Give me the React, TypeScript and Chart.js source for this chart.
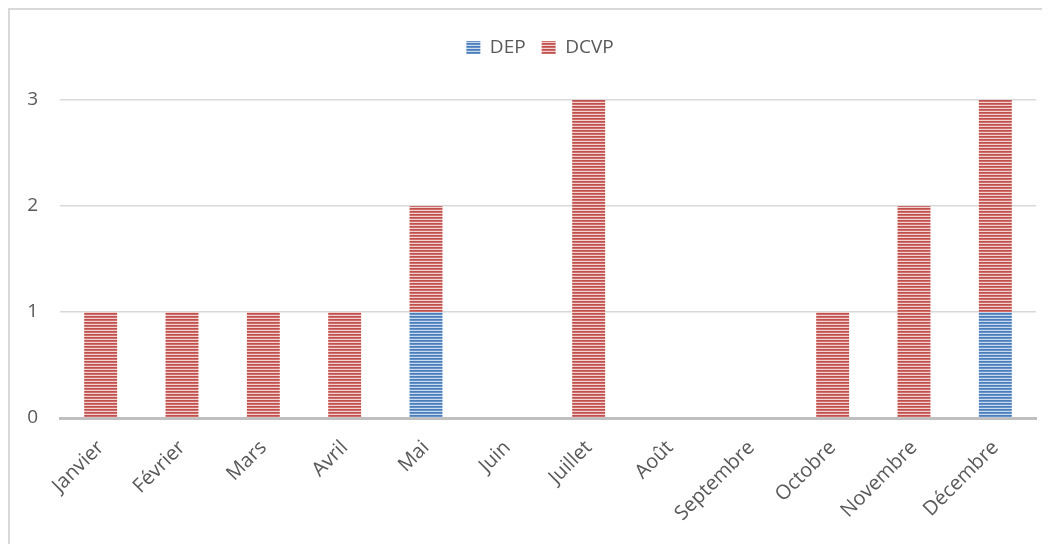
import React, { useEffect, useRef } from "react";
import { Chart, registerables } from "chart.js";

Chart.register(...registerables);

const months = ["Janvier", "Février", "Mars", "Avril", "Mai", "Juin", "Juillet", "Août", "Septembre", "Octobre", "Novembre", "Décembre"];
const depValues = [0, 0, 0, 0, 1, 0, 0, 0, 0, 0, 0, 1];
const dcvpValues = [1, 1, 1, 1, 1, 0, 3, 0, 0, 1, 2, 2];
const yTicks = [0, 1, 2, 3];

const FONT = "'Open Sans', sans-serif";
const TEXT = "#595959";

function stripes(rows: string[]): CanvasPattern | string {
  const c = document.createElement("canvas");
  c.width = 4;
  c.height = rows.length;
  const ctx = c.getContext("2d");
  if (!ctx) return rows[0];
  rows.forEach((col, i) => {
    ctx.fillStyle = col;
    ctx.fillRect(0, i, 4, 1);
  });
  const p = ctx.createPattern(c, "repeat");
  return p || rows[0];
}

const legendSpacer = {
  id: "legendSpacer",
  beforeLayout(chart: any) {
    const lg = chart.legend;
    if (lg && !lg._patched) {
      const orig = lg.fit.bind(lg);
      lg.fit = function () {
        orig();
        this.height = 78;
      };
      lg._patched = true;
    }
  },
  afterLayout(chart: any) {
    const lg = chart.legend;
    if (lg) {
      lg.left += 17;
      lg.right += 17;
    }
  },
};

export default function App() {
  const ref = useRef<HTMLCanvasElement>(null);
  useEffect(() => {
    if (!ref.current) return;
    const red = stripes(["#c0504d", "#cf6d6a", "#f0d2d1"]);
    const blue = stripes(["#4a7ebb", "#6792c8", "#c9daef"]);
    const chart = new Chart(ref.current, {
      type: "bar",
      data: {
        labels: months,
        datasets: [
          { label: "DEP", data: depValues, backgroundColor: blue as any, borderWidth: 0 },
          { label: "DCVP", data: dcvpValues, backgroundColor: red as any, borderWidth: 0 },
        ],
      },
      plugins: [legendSpacer],
      options: {
        responsive: false,
        animation: false,
        layout: { padding: { top: 12, right: 14, left: 0, bottom: 0 } },
        datasets: { bar: { categoryPercentage: 1, barPercentage: 0.405 } },
        plugins: {
          legend: {
            position: "top",
            align: "center",
            labels: {
              boxWidth: 14,
              boxHeight: 13,
              padding: 16,
              color: TEXT,
              font: { family: FONT, size: 19 },
            },
          },
          tooltip: { enabled: false },
        },
        scales: {
          x: {
            stacked: true,
            grid: { display: false, drawTicks: false },
            border: { display: true, color: "#bfbfbf", width: 3 },
            ticks: {
              color: TEXT,
              font: { family: FONT, size: 20 },
              maxRotation: 45,
              minRotation: 45,
              padding: 18,
              autoSkip: false,
            },
            afterFit: (s: any) => {
              s.height = 126;
            },
          },
          y: {
            stacked: true,
            min: yTicks[0],
            max: yTicks[yTicks.length - 1],
            grid: { color: "#d9d9d9", lineWidth: 1.5, drawTicks: false },
            border: { display: false },
            ticks: {
              stepSize: 1,
              color: TEXT,
              font: { family: FONT, size: 19 },
              padding: 22,
            },
            afterFit: (s: any) => {
              s.width = 50;
            },
          },
        },
      },
    });
    return () => chart.destroy();
  }, []);
  return (
    <div
      style={{
        width: 1042,
        height: 536,
        borderLeft: "2px solid #d9d9d9",
        borderTop: "2px solid #d9d9d9",
        boxSizing: "border-box",
        overflow: "hidden",
      }}
    >
      <canvas ref={ref} width={1040} height={534} style={{ display: "block" }} />
    </div>
  );
}
